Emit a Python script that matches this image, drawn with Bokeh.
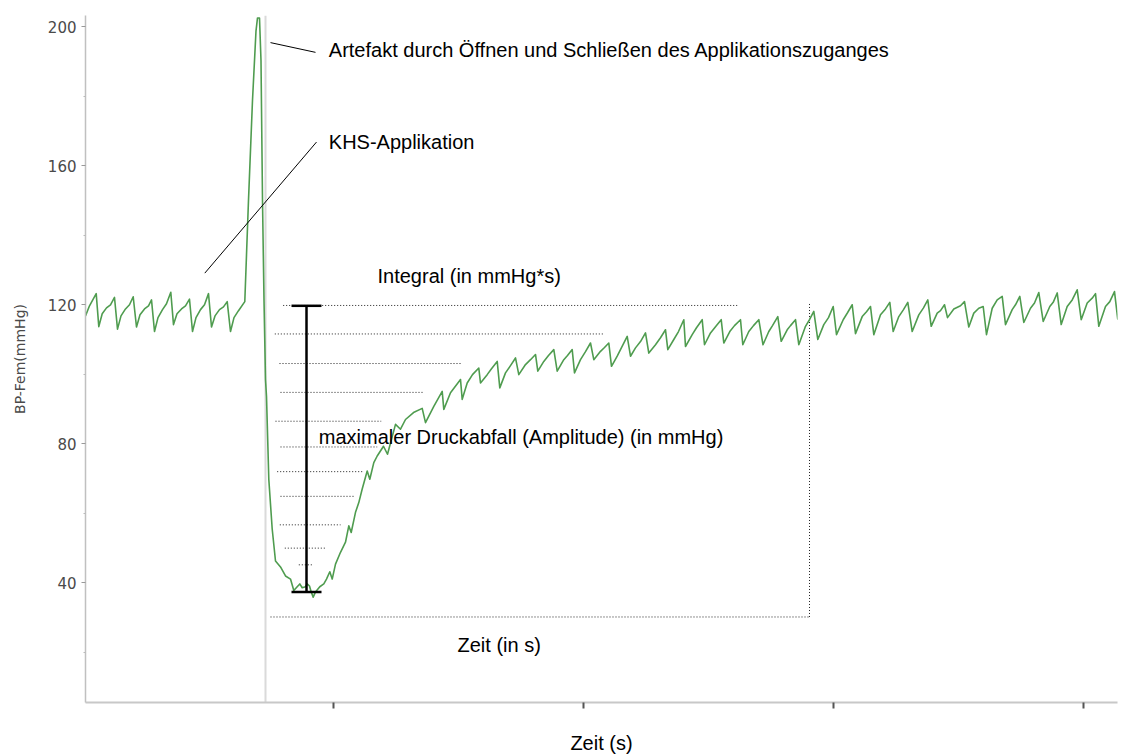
from bokeh.plotting import figure
from bokeh.models import Range1d, FixedTicker, Span
from bokeh.core.properties import value
from bokeh.embed import file_html
from bokeh.resources import INLINE

# ---------------- data (time in recording samples, pressure in mmHg) ----------------
t_base = [2, 6, 12.7, 15.3, 18.7, 23, 27, 31, 34, 37.5,
          42, 46, 49.7, 53, 56.5, 61, 65, 68, 71, 74.5,
          79, 83, 87.3, 90, 93.5, 98, 102, 106, 109, 112.5,
          117, 121, 125, 128, 131.5, 136, 140, 143.7, 147, 150.5,
          155, 161.3]
bp_base = [116.8, 119.7, 123.2, 113.7, 117.4, 119.1, 120.0, 122.1, 113.0, 116.8,
           118.8, 120.0, 122.3, 113.6, 117.1, 118.8, 119.7, 121.4, 112.3, 116.3,
           118.6, 120.3, 123.6, 114.3, 117.4, 118.8, 119.7, 121.6, 112.3, 116.3,
           118.6, 120.0, 123.2, 113.6, 116.8, 118.6, 119.4, 120.9, 112.3, 116.3,
           118.3, 120.9]

t_event = [165, 169, 172.5, 174, 176, 177.5, 179, 180.5, 182, 183,
           185.3, 188.7, 192, 197, 202, 207, 210.3, 213.7, 216.3, 218.7,
           222, 223.7, 226, 227.7, 229.7, 232, 236.3, 240.3, 243, 246.3,
           248.7, 252, 257, 262, 265.3, 267.7, 272, 275.3, 278.7, 283.7,
           286.3, 290.3, 293.7, 300, 304, 312, 317, 322, 330, 338.7,
           342, 350.3, 358.7, 360.3, 367, 377, 378.7, 383.7, 389, 395.3,
           397]
bp_event = [150.1, 178.8, 198.8, 202.5, 202.5, 190.2, 150.1, 121.4, 98.5, 93.6,
            69.8, 55.5, 46.3, 44.6, 42.0, 41.1, 37.8, 38.9, 39.7, 38.6,
            38.9, 39.7, 39.1, 37.4, 35.9, 37.4, 38.9, 39.7, 41.1, 43.2,
            41.1, 45.4, 48.8, 51.7, 56.4, 54.5, 60.3, 63.1, 67.0, 72.2,
            69.8, 74.6, 76.5, 79.3, 77.0, 85.6, 84.2, 87.0, 89.0, 90.2,
            86.1, 90.8, 95.1, 89.9, 94.7, 98.5, 92.8, 97.5, 99.9, 101.8,
            97.5]

t_recov = [403.7, 408, 413.7, 416.3, 422, 427, 432, 435.3, 442, 447,
           452, 454.3, 460.3, 465, 470.3, 473.7, 480.3, 484, 488.7, 491,
           497, 502, 507, 510.3, 517, 521, 525.3, 528, 533.7, 538,
           543.7, 547, 552, 557, 562, 565.3, 572, 577, 582, 584.3,
           590.3, 595, 600.3, 602, 608.7, 613, 618.7, 621, 627, 632,
           637.7, 640.3, 646.3, 651, 657, 659.3, 665.3, 670, 675.3, 679.5,
           685.3, 689, 694.3, 697.7, 703.7, 707, 712, 715.3, 722, 726,
           730.3, 734.3, 740.3, 745, 749.7, 753, 759.7, 764, 768.7, 772,
           778.7, 783, 787, 790.3, 797, 802, 806.3, 809.7, 815.3, 820,
           824.3, 828.7, 835.3, 840, 844.3, 847.7, 853.7, 857, 861, 864,
           870.3, 877, 881, 885.3, 890.3, 895.3, 899.7, 903, 908.7, 913.7,
           918.7, 922, 928.7, 932, 936.3, 940.3, 947, 951, 955.3, 959.7,
           966.3, 969.7, 973.7, 977.7, 983.7, 988.7, 993.7, 997.7, 1003.7, 1008.7,
           1012, 1015.3, 1022, 1026.3, 1031, 1034.3]
bp_recov = [99.9, 101.6, 103.7, 96.1, 100.4, 102.5, 104.7, 99.9, 102.8, 104.2,
            105.7, 100.9, 103.7, 105.4, 107.1, 100.9, 104.2, 105.4, 107.1, 100.4,
            104.2, 106.5, 109.0, 104.2, 106.6, 107.7, 109.0, 102.3, 105.2, 107.7,
            110.9, 105.2, 107.6, 109.4, 111.9, 106.1, 108.5, 110.5, 112.8, 107.1,
            110.0, 112.3, 115.7, 108.0, 111.4, 113.4, 115.7, 108.5, 111.9, 113.7,
            115.7, 109.0, 112.3, 114.0, 115.7, 108.5, 112.3, 114.0, 115.7, 108.5,
            112.3, 114.0, 116.6, 109.5, 112.8, 114.0, 115.7, 108.5, 113.8, 115.7,
            118.1, 110.0, 114.3, 116.3, 119.5, 111.4, 115.7, 117.7, 120.0, 111.7,
            116.6, 118.0, 119.5, 111.4, 117.1, 118.8, 120.7, 112.3, 116.6, 118.6,
            120.7, 112.3, 117.1, 119.1, 121.4, 113.8, 117.6, 118.3, 120.0, 116.3,
            118.8, 119.7, 120.9, 113.6, 117.6, 119.0, 119.5, 111.4, 119.0, 121.4,
            122.4, 114.3, 118.6, 120.0, 122.4, 114.9, 119.0, 120.5, 123.5, 115.2,
            119.5, 120.7, 123.4, 114.3, 119.5, 121.4, 124.3, 115.7, 120.5, 121.9,
            123.2, 113.8, 119.5, 120.9, 123.8, 115.7]

t = t_base + t_event + t_recov
bp = bp_base + bp_event + bp_recov
assert len(t) == len(bp)

y_ticks = [40, 80, 120, 160, 200]
y_minor = [20, 60, 100, 140, 180]
x_ticks = [250, 500, 750, 1000]

artefact_t = 182

amp_t = 223
amp_top = 119.7
amp_bottom = 37.4
amp_cap = 15

hatch_y = [119.8, 111.6, 103.1, 94.8, 86.5, 79.1, 72.0, 64.9, 56.7, 50.0, 45.2]
hatch_t0 = [199.7, 191.3, 196, 197, 192, 197, 193.7, 197, 196.3, 201.3, 215.3]
hatch_t1 = [655.3, 521.3, 378.7, 339.7, 297.7, 293.7, 278.7, 271, 257, 243, 229.7]

box_bottom = 30.2
box_t0 = 187
box_t1 = 726
box_top = 120.6

ptr_t0 = [187, 233]
ptr_y0 = [195.4, 166.8]
ptr_t1 = [232, 121.3]
ptr_y1 = [192.6, 129.1]

ann_text = ["Artefakt durch Öffnen und Schließen des Applikationszuganges",
            "KHS-Applikation",
            "Integral (in mmHg*s)",
            "maximaler Druckabfall (Amplitude) (in mmHg)",
            "Zeit (in s)"]
ann_t = [245.3, 245.3, 294, 235.3, 374]
ann_y = [193.2, 166.7, 128.2, 81.9, 22.0]

# ---------------- figure ----------------
p = figure(width=1134, height=756, title=None,
           x_range=Range1d(2, 1034), y_range=Range1d(5.6, 203.2),
           output_backend="svg", toolbar_location=None,
           min_border_left=85, min_border_right=17,
           min_border_top=15, min_border_bottom=52)
p.outline_line_color = None
p.grid.visible = False
p.background_fill_color = "white"
p.border_fill_color = "white"

# x axis (tick labels are not shown in the original)
xa = p.xaxis[0]
xa.ticker = FixedTicker(ticks=x_ticks, minor_ticks=[])
xa.major_label_text_font_size = "0px"
xa.major_label_text_color = None
xa.major_label_standoff = 0
xa.axis_line_color = "#c8c8c8"
xa.axis_line_width = 2
xa.major_tick_line_color = "#555555"
xa.major_tick_line_width = 2
xa.major_tick_out = 6
xa.major_tick_in = 0
xa.minor_tick_line_color = None
xa.axis_label = "Zeit (s)"
xa.axis_label_text_font = "Liberation Sans"
xa.axis_label_text_font_size = "20px"
xa.axis_label_text_font_style = "normal"
xa.axis_label_text_color = "black"
xa.axis_label_standoff = 23

# y axis
ya = p.yaxis[0]
ya.ticker = FixedTicker(ticks=y_ticks, minor_ticks=y_minor)
ya.major_label_text_font = "DejaVu Sans"
ya.major_label_text_font_size = "15px"
ya.major_label_text_color = "#4a4a4a"
ya.major_label_standoff = 5
ya.axis_line_color = "#c0c0c0"
ya.axis_line_width = 1.5
ya.major_tick_line_color = "#999999"
ya.major_tick_out = 4
ya.major_tick_in = 0
ya.minor_tick_line_color = "#bbbbbb"
ya.minor_tick_out = 2
ya.minor_tick_in = 0
ya.axis_label = "BP-Fem(mmHg)"
ya.axis_label_text_font = "DejaVu Sans"
ya.axis_label_text_font_size = "14px"
ya.axis_label_text_font_style = "normal"
ya.axis_label_text_color = "#4a4a4a"
ya.axis_label_standoff = 17

# grey artefact marker line
p.add_layout(Span(location=artefact_t, dimension="height", line_color="#dadada",
                  line_width=2, level="underlay"))

# dotted integral hatching and box
p.segment(x0=hatch_t0, y0=hatch_y, x1=hatch_t1, y1=hatch_y,
          line_color="#222222", line_width=1, line_dash="1 2")
p.segment(x0=[box_t0, box_t1], y0=[box_bottom, box_bottom],
          x1=[box_t1, box_t1], y1=[box_bottom, box_top],
          line_color="#222222", line_width=1, line_dash="1 2")

# pressure trace
p.line(t, bp, line_color="#4f9c4f", line_width=1.6, line_join="round")

# amplitude bar
p.segment(x0=[amp_t, amp_t - amp_cap, amp_t - amp_cap],
          y0=[amp_top, amp_top, amp_bottom],
          x1=[amp_t, amp_t + amp_cap, amp_t + amp_cap],
          y1=[amp_bottom, amp_top, amp_bottom],
          line_color="black", line_width=2.5)

# pointer lines
p.segment(x0=ptr_t0, y0=ptr_y0, x1=ptr_t1, y1=ptr_y1, line_color="black", line_width=1)

# annotation texts
p.text(x=ann_t, y=ann_y, text=ann_text, text_font=value("Liberation Sans"),
       text_font_size="20px", text_color="black", text_align="left",
       text_baseline="alphabetic")

open("out.html", "w").write(file_html(p, INLINE))
